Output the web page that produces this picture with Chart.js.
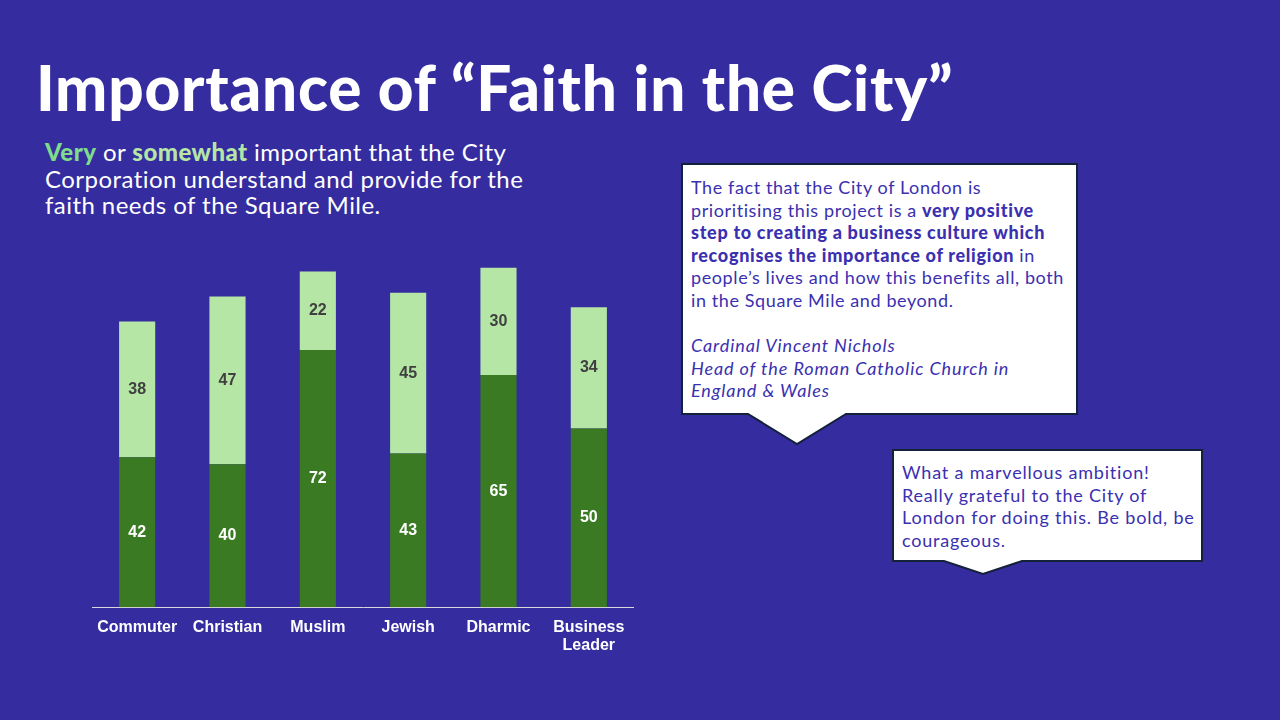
<!DOCTYPE html>
<html>
<head>
<meta charset="utf-8">
<script src="https://cdn.jsdelivr.net/npm/chart.js@4"></script>
<style>
  html, body { margin: 0; padding: 0; }
  body { width: 1280px; height: 720px; background: #352ca0; position: relative; overflow: hidden; font-family: Lato, "Noto Sans", sans-serif; }
  #title { position: absolute; left: 36px; top: 50px; color: #fff; font-size: 62px; font-weight: 900; line-height: 74px; white-space: nowrap; letter-spacing: 0.8px; }
  #sub { position: absolute; left: 45px; top: 139px; color: #fff; font-size: 24px; line-height: 26.5px; letter-spacing: 0.45px; white-space: nowrap; }
  #sub .very { color: #7fdc8c; font-weight: 900; }
  #sub .some { color: #b5e6a5; font-weight: 900; }
  svg { position: absolute; left: 0; top: 0; }
  .quote { position: absolute; color: #3a30b0; font-size: 18px; line-height: 22.6px; letter-spacing: 0.6px; white-space: nowrap; }
  .quote b { font-weight: 900; letter-spacing: 0.7px; }
  .quote i { letter-spacing: 0.9px; }
  #q1 { left: 691px; top: 176px; }
  #q2 { left: 902px; top: 461px; letter-spacing: 0.8px; }
  #wrap { position: absolute; left: 92px; top: 250px; width: 542px; height: 408px; }
</style>
</head>
<body>
<div id="title">Importance of “Faith in the City”</div>
<div id="sub"><span class="very">Very</span> or <span class="some">somewhat</span> important that the City<br>Corporation understand and provide for the<br>faith needs of the Square Mile.</div>

<svg width="1280" height="720">
  <path d="M682,164 H1077 V414 H846 L797,444 L748,414 H682 Z" fill="#fff" stroke="#13213a" stroke-width="2"/>
  <path d="M893,450 H1202 V561 H1022 L983,574 L944,561 H893 Z" fill="#fff" stroke="#13213a" stroke-width="2"/>
</svg>

<div class="quote" id="q1">The fact that the City of London is<br>prioritising this project is a <b>very positive</b><br><b>step to creating a business culture which</b><br><b>recognises the importance of religion</b> in<br>people’s lives and how this benefits all, both<br>in the Square Mile and beyond.<br><br><i>Cardinal Vincent Nichols</i><br><i>Head of the Roman Catholic Church in</i><br><i>England &amp; Wales</i></div>
<div class="quote" id="q2">What a marvellous ambition!<br>Really grateful to the City of<br>London for doing this. Be bold, be<br>courageous.</div>

<div id="wrap"><canvas id="chart"></canvas></div>

<script>
const categories = ['Commuter', 'Christian', 'Muslim', 'Jewish', 'Dharmic', ['Business', 'Leader']];
const veryImportant = [42, 40, 72, 43, 65, 50];
const somewhatImportant = [38, 47, 22, 45, 30, 34];

const darkGreen = '#3a7a22', lightGreen = '#b5e6a5';

// simple value labels in the middle of each segment
const segmentLabels = {
  id: 'segmentLabels',
  afterDatasetsDraw(chart) {
    const c = chart.ctx;
    c.save();
    c.font = 'bold 16px "Liberation Sans", Arial, sans-serif';
    c.textAlign = 'center';
    c.textBaseline = 'middle';
    chart.data.datasets.forEach((ds, i) => {
      chart.getDatasetMeta(i).data.forEach((bar, j) => {
        c.fillStyle = i === 0 ? '#ffffff' : '#404040';
        c.fillText(ds.data[j], bar.x, (bar.y + bar.base) / 2);
      });
    });
    c.restore();
  }
};

new Chart(document.getElementById('chart'), {
  type: 'bar',
  data: {
    labels: categories,
    datasets: [
      { label: 'Very', data: veryImportant, backgroundColor: darkGreen },
      { label: 'Somewhat', data: somewhatImportant, backgroundColor: lightGreen }
    ]
  },
  options: {
    responsive: true,
    maintainAspectRatio: false,
    animation: false,
    layout: { padding: 0 },
    datasets: { bar: { barPercentage: 0.4, categoryPercentage: 1 } },
    scales: {
      x: {
        stacked: true,
        grid: { display: false },
        border: { color: '#d9d9d9', width: 1 },
        ticks: { color: '#ffffff', font: { family: '"Liberation Sans", Arial, sans-serif', size: 16, weight: 'bold', lineHeight: 1.15 }, padding: 3, maxRotation: 0, autoSkip: false }
      },
      y: { stacked: true, display: false, min: 0, max: 100 }
    },
    plugins: { legend: { display: false }, tooltip: { enabled: false } }
  },
  plugins: [segmentLabels]
});
</script>
</body>
</html>
